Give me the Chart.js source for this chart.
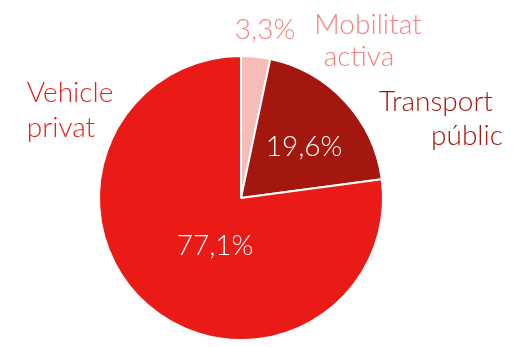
<!DOCTYPE html>
<html>
<head>
<meta charset="utf-8">
<script src="https://cdn.jsdelivr.net/npm/chart.js@4/dist/chart.umd.min.js"></script>
<style>
  html, body { margin: 0; padding: 0; background: #fff; }
  #wrap { width: 519px; height: 347px; }
</style>
</head>
<body>
<div id="wrap"><canvas id="pie"></canvas></div>
<script>
let categories = ['Mobilitat activa', 'Transport públic', 'Vehicle privat'];
let shares = [3.3, 19.6, 77.1];
let sliceColors = ['#f8bcb8', '#a3170f', '#ea1a16'];
let nameColors = ['#f2837e', '#a3170f', '#e8201b'];

// name labels outside the pie, one entry per line
let nameLines = [
    [['Mobilitat', 368, 25], ['activa', 359, 57]],
    [['Transport', 436, 102], ['públic', 467, 136]],
    [['Vehicle', 70, 93], ['privat', 61, 128]]
];

// where each percentage is written
let pctPos = [[265, 30], [304, 147], [215, 246]];
let pctInside = [false, true, true];

const fontFamily = 'Lato, "Noto Sans", sans-serif';

const pieLabels = {
    id: 'pieLabels',
    afterDatasetsDraw(chart) {
        const ctx = chart.ctx;
        ctx.save();
        ctx.textAlign = 'center';
        ctx.textBaseline = 'middle';
        ctx.font = '300 28px ' + fontFamily;

        shares.forEach((v, i) => {
            ctx.fillStyle = pctInside[i] ? '#ffffff' : nameColors[i];
            ctx.fillText(v.toFixed(1).replace('.', ',') + '%', pctPos[i][0], pctPos[i][1]);

            ctx.fillStyle = nameColors[i];
            nameLines[i].forEach(line => ctx.fillText(line[0], line[1], line[2]));
        });
        ctx.restore();
    }
};

new Chart(document.getElementById('pie'), {
    type: 'pie',
    data: {
        labels: categories,
        datasets: [{
            data: shares,
            backgroundColor: sliceColors,
            borderColor: '#ffffff',
            borderWidth: 2
        }]
    },
    options: {
        responsive: true,
        maintainAspectRatio: false,
        animation: false,
        layout: {
            padding: { left: 98, right: 135, top: 55, bottom: 6 }
        },
        plugins: {
            legend: { display: false },
            tooltip: { enabled: false }
        }
    },
    plugins: [pieLabels]
});
</script>
</body>
</html>
